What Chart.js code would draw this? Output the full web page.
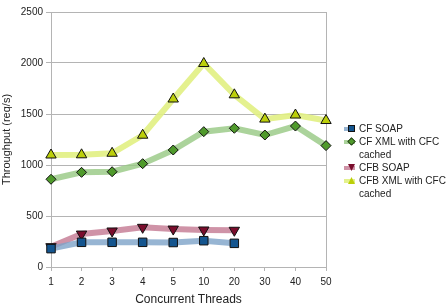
<!DOCTYPE html>
<html>
<head>
<meta charset="utf-8">
<script src="https://cdn.jsdelivr.net/npm/chart.js@4/dist/chart.umd.min.js"></script>
<style>
    html, body { margin: 0; padding: 0; background: #fff; }
    #wrap { position: relative; width: 446px; height: 307px; }
    #legend { position: absolute; left: 344px; top: 122px; font: 10px "Liberation Sans", Arial, sans-serif; color: #222; }
    .item { position: relative; padding-left: 15px; line-height: 13px; }
    .icon { position: absolute; left: 0; top: 3px; width: 11px; height: 8px; }
    .icon .ln { position: absolute; left: 0; top: 2px; width: 11px; height: 4px; }
    .icon .mk { position: absolute; left: 4px; top: 0; width: 7px; height: 7px; box-sizing: border-box; border: 1px solid #111; }
</style>
</head>
<body>
<div id="wrap">
    <canvas id="chart" width="446" height="307"></canvas>
    <div id="legend"></div>
</div>
<script>
const threads = ['1', '2', '3', '4', '5', '10', '20', '30', '40', '50'];

const cfSoap = [180, 242, 242, 242, 240, 258, 232];
const cfXml = [860, 928, 934, 1013, 1147, 1327, 1360, 1294, 1382, 1190];
const cfbSoap = [199, 323, 353, 389, 372, 363, 360];
const cfbXml = [1098, 1100, 1115, 1292, 1647, 1995, 1688, 1450, 1490, 1436];

const seriesNames = ['CF SOAP', 'CF XML with CFC cached', 'CFB SOAP', 'CFB XML with CFC cached'];

const textColor = '#222';
const gridColor = '#b4b4b4';
const font = { family: '"Liberation Sans", Arial, sans-serif', size: 10 };

const series = [
    { data: cfSoap, line: 'rgba(125, 163, 200, 0.8)', marker: '#14558f', style: 'rect', radius: 6, rotation: 0 },
    { data: cfXml, line: 'rgba(150, 200, 130, 0.8)', marker: '#4f9a2b', style: 'rectRot', radius: 5, rotation: 0 },
    { data: cfbSoap, line: 'rgba(195, 120, 145, 0.8)', marker: '#7a0c2c', style: 'triangle', radius: 6, rotation: 180 },
    { data: cfbXml, line: 'rgba(225, 240, 130, 0.9)', marker: '#bccf0a', style: 'triangle', radius: 6, rotation: 0 },
];

new Chart(document.getElementById('chart'), {
    type: 'line',
    data: {
        labels: threads,
        datasets: series.map((s, i) => ({
            label: seriesNames[i],
            data: s.data,
            borderColor: s.line,
            borderWidth: 6,
            pointStyle: s.style,
            pointRotation: s.rotation,
            pointRadius: s.radius,
            pointBackgroundColor: s.marker,
            pointBorderColor: '#111',
            pointBorderWidth: 1,
            tension: 0,
            fill: false,
        })),
    },
    options: {
        responsive: false,
        animation: false,
        layout: { padding: { top: 12, right: 120, bottom: 0, left: 0 } },
        scales: {
            x: {
                offset: false,
                afterFit: (scale) => { scale.height = 40; },
                grid: {
                    drawOnChartArea: true,
                    color: (c) => (c.index === threads.length - 1 ? gridColor : 'rgba(0,0,0,0)'),
                    tickColor: gridColor,
                    tickLength: 4,
                },
                border: { color: gridColor },
                ticks: { color: textColor, font, padding: 5, autoSkip: false, maxRotation: 0 },
                title: { display: true, text: 'Concurrent Threads', color: textColor, font: { ...font, size: 12 }, padding: { top: 0, bottom: 0 } },
            },
            y: {
                min: 0,
                max: 2500,
                afterFit: (scale) => { scale.width = 51; },
                grid: { color: gridColor, tickColor: gridColor, tickLength: 5 },
                border: { color: gridColor },
                ticks: { stepSize: 500, color: textColor, font, padding: 3, callback: (v) => String(v) },
                title: { display: true, text: 'Throughput (req/s)', color: textColor, font: { ...font, size: 11 }, padding: { top: 0, bottom: 2 } },
            },
        },
        plugins: {
            legend: { display: false },
            tooltip: { enabled: false },
        },
    },
});

// legend on the right, label text wraps like the original
const legend = document.getElementById('legend');
const wrapped = ['CF SOAP', 'CF XML with CFC<br>cached', 'CFB SOAP', 'CFB XML with CFC<br>cached'];
series.forEach((s, i) => {
    const item = document.createElement('div');
    item.className = 'item';
    let shape = '';
    if (s.style === 'rectRot') {
        shape = 'transform: rotate(45deg) scale(0.85);';
    } else if (s.style === 'triangle') {
        shape = s.rotation ? 'clip-path: polygon(0 0, 100% 0, 50% 100%); border: none;'
            : 'clip-path: polygon(50% 0, 100% 100%, 0 100%); border: none;';
    }
    item.innerHTML = '<span class="icon"><span class="ln" style="background:' + s.line + '"></span>'
        + '<span class="mk" style="background:' + s.marker + ';' + shape + '"></span></span>' + wrapped[i];
    legend.appendChild(item);
});
</script>
</body>
</html>
